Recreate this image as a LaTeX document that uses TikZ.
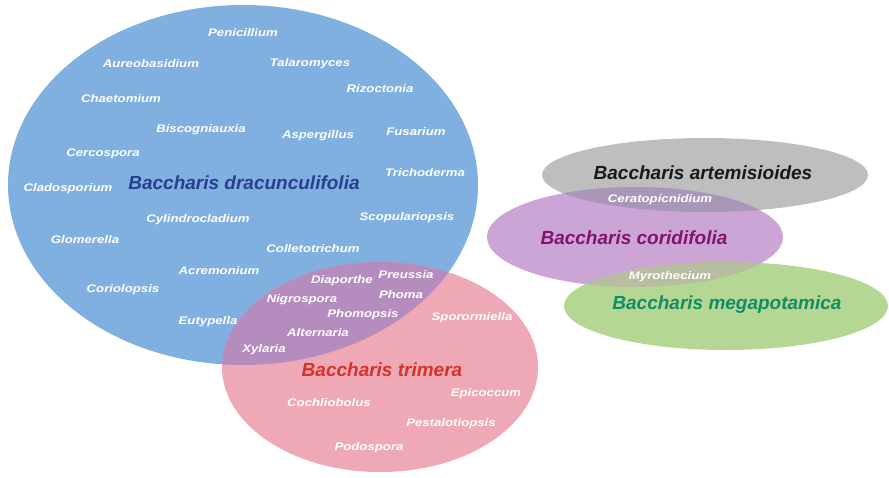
\documentclass[tikz,border=0pt]{standalone}
\usepackage{fontspec}
\setmainfont{Liberation Sans}
\newfontfamily\smallfont[FakeStretch=1.2]{Liberation Sans}
\definecolor{cblue}{RGB}{128,176,224}
\definecolor{cpink}{RGB}{238,168,182}
\definecolor{cbp}{RGB}{180,140,190}
\definecolor{cgray}{RGB}{190,190,190}
\definecolor{cpurple}{RGB}{202,165,214}
\definecolor{cgp}{RGB}{170,150,184}
\definecolor{cgreen}{RGB}{180,216,148}
\definecolor{cpg}{RGB}{184,188,160}
\definecolor{tblue}{RGB}{44,62,145}
\definecolor{tred}{RGB}{215,50,40}
\definecolor{tblack}{RGB}{25,25,25}
\definecolor{tpurple}{RGB}{130,20,110}
\definecolor{tgreen}{RGB}{20,140,100}
\begin{document}
\begin{tikzpicture}[x=1pt,y=-1pt,
  sp/.style={font=\smallfont\bfseries\itshape\fontsize{11}{13}\selectfont, text=white, inner sep=0pt},
  mainlab/.style={font=\bfseries\itshape\fontsize{19}{22}\selectfont, inner sep=0pt}]
\useasboundingbox (0,0) rectangle (889,477);
% ellipses
\fill[cblue] (243,185) ellipse [x radius=235pt, y radius=180pt];
\fill[cpink] (380,367) ellipse [x radius=158pt, y radius=105pt];
\begin{scope}
  \clip (243,185) ellipse [x radius=235pt, y radius=180pt];
  \fill[cbp] (380,367) ellipse [x radius=158pt, y radius=105pt];
\end{scope}
\fill[cgray] (705,175) ellipse [x radius=163pt, y radius=37pt];
\fill[cpurple] (635,237) ellipse [x radius=148pt, y radius=50pt];
\begin{scope}
  \clip (705,175) ellipse [x radius=163pt, y radius=37pt];
  \fill[cgp] (635,237) ellipse [x radius=148pt, y radius=50pt];
\end{scope}
\fill[cgreen] (726,306) ellipse [x radius=162pt, y radius=44pt];
\begin{scope}
  \clip (635,237) ellipse [x radius=148pt, y radius=50pt];
  \fill[cpg] (726,306) ellipse [x radius=162pt, y radius=44pt];
\end{scope}
% main labels
\node[mainlab, text=tblue] (bd) at (244,183) {Baccharis dracunculifolia};
\node[mainlab, text=tred] (bt) at (382,370) {Baccharis trimera};
\node[mainlab, text=tblack] (ba) at (703,173) {Baccharis artemisioides};
\node[mainlab, text=tpurple] (bc) at (634,238) {Baccharis coridifolia};
\node[mainlab, text=tgreen] (bm) at (727,305) {Baccharis megapotamica};
% blue labels
\node[sp] (n1) at (243,33) {Penicillium};
\node[sp] (n2) at (151,64) {Aureobasidium};
\node[sp] (n3) at (310,64) {Talaromyces};
\node[sp] (n4) at (380,89) {Rizoctonia};
\node[sp] (n5) at (121,99) {Chaetomium};
\node[sp] (n6) at (201,130) {Biscogniauxia};
\node[sp] (n7) at (318,136) {Aspergillus};
\node[sp] (n8) at (416,132) {Fusarium};
\node[sp] (n9) at (103,154) {Cercospora};
\node[sp] (n10) at (425,173) {Trichoderma};
\node[sp] (n11) at (68,189) {Cladosporium};
\node[sp] (n12) at (198,220) {Cylindrocladium};
\node[sp] (n13) at (407,218) {Scopulariopsis};
\node[sp] (n14) at (85,240) {Glomerella};
\node[sp] (n15) at (313,249) {Colletotrichum};
\node[sp] (n16) at (219,271) {Acremonium};
\node[sp] (n17) at (123,290) {Coriolopsis};
\node[sp] (n18) at (208,322) {Eutypella};
% overlap labels
\node[sp] (o1) at (342,281) {Diaporthe};
\node[sp] (o2) at (406,275) {Preussia};
\node[sp] (o3) at (401,295) {Phoma};
\node[sp] (o4) at (302,300) {Nigrospora};
\node[sp] (o5) at (363,315) {Phomopsis};
\node[sp] (o6) at (318,333) {Alternaria};
\node[sp] (o7) at (264,350) {Xylaria};
% pink labels
\node[sp] (p1) at (472,318) {Sporormiella};
\node[sp] (p2) at (486,394) {Epicoccum};
\node[sp] (p3) at (329,403) {Cochliobolus};
\node[sp] (p4) at (451,424) {Pestalotiopsis};
\node[sp] (p5) at (369,448) {Podospora};
% right labels
\node[sp] (r1) at (660,200) {Ceratopicnidium};
\node[sp] (r2) at (670,277) {Myrothecium};
\end{tikzpicture}
\end{document}
